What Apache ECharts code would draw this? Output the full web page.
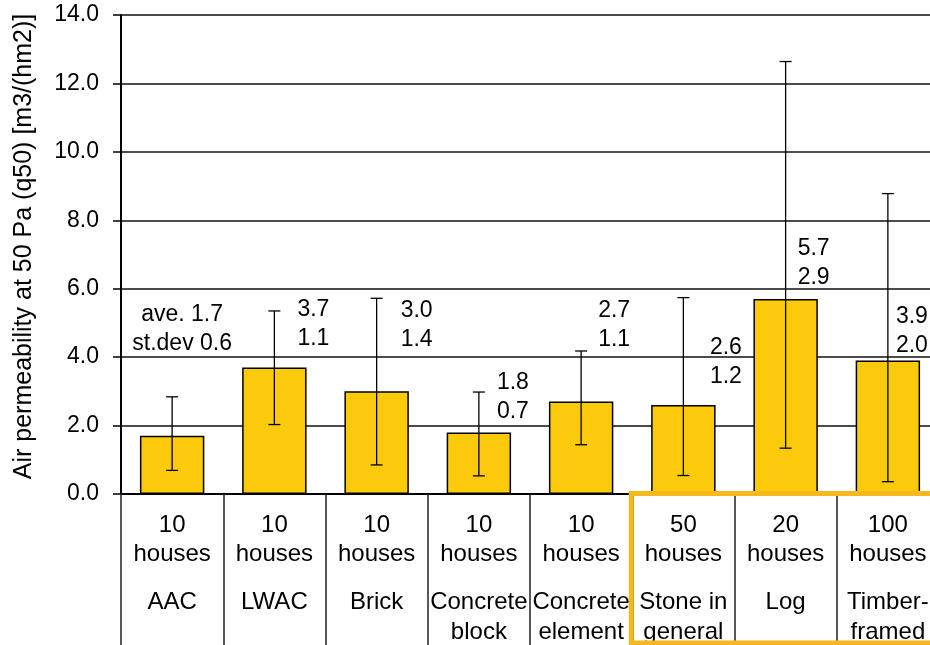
<!DOCTYPE html>
<html>
<head>
<meta charset="utf-8">
<script src="https://cdn.jsdelivr.net/npm/echarts@6/dist/echarts.min.js"></script>
<style>
  html, body { margin: 0; padding: 0; background: #fff; }
  #chart { width: 930px; height: 645px; }
</style>
</head>
<body>
<div id="chart"></div>
<script>
// Wall types and sample sizes
const categories = ['AAC', 'LWAC', 'Brick', 'Concrete\nblock', 'Concrete\nelement', 'Stone in\ngeneral', 'Log', 'Timber-\nframed'];
const houseCounts = [10, 10, 10, 10, 10, 50, 20, 100];

// Air permeability q50 statistics, m3/(h m2)
const averages = [1.7, 3.7, 3.0, 1.8, 2.7, 2.6, 5.7, 3.9];
const stdDevs  = [0.6, 1.1, 1.4, 0.7, 1.1, 1.2, 2.9, 2.0];
const rangeLow  = [0.69, 2.03, 0.85, 0.53, 1.44, 0.54, 1.34, 0.36];
const rangeHigh = [2.84, 5.35, 5.72, 2.98, 4.18, 5.74, 12.64, 8.78];

// First wall type of the framed group (stone, log, timber)
const framedFrom = 5;

// Annotation placement: [x shift in px from the category centre, y in axis units]
const notePlacement = [[10, 4.81], [23, 4.95], [24, 4.93], [18, 2.84], [17, 4.93], [26.5, 3.86], [12, 6.75], [8, 4.75]];

const FONT = "'Liberation Sans', Arial, Helvetica, sans-serif";
const chart = echarts.init(document.getElementById('chart'));

const option = {
  animation: false,
  textStyle: { fontFamily: FONT, color: '#000' },
  // the plot runs slightly past the right edge of the page
  grid: { left: 121, width: 818, top: 15, bottom: 151, containLabel: false, outerBoundsMode: 'none' },
  xAxis: {
    type: 'category',
    data: categories,
    boundaryGap: true,
    axisLine: { show: true, lineStyle: { color: '#000', width: 2 } },
    axisTick: { show: true, interval: 0, length: 152, lineStyle: { color: '#222', width: 1.5 } },
    axisLabel: {
      interval: 0,
      margin: 17,
      color: '#000',
      formatter: (value, idx) => `{n|${houseCounts[idx]}}\n{n|houses}\n{g| }\n{m|${value}}`,
      rich: {
        n: { fontSize: 24, lineHeight: 29, fontFamily: FONT, color: '#000' },
        g: { fontSize: 2, lineHeight: 18 },
        m: { fontSize: 24, lineHeight: 30, fontFamily: FONT, color: '#000' }
      }
    },
    splitLine: { show: false }
  },
  yAxis: {
    type: 'value',
    min: 0,
    max: 14,
    interval: 2,
    name: 'Air permeability at 50 Pa (q50) [m3/(hm2)]',
    nameLocation: 'middle',
    nameGap: 84,
    nameTextStyle: { fontSize: 25, color: '#000', fontFamily: FONT, padding: [0, 0, 0, 16] },
    axisLine: { show: true, lineStyle: { color: '#000', width: 2 } },
    axisTick: { show: true, length: 8, lineStyle: { color: '#000', width: 1.5 } },
    axisLabel: { margin: 22, fontSize: 23, color: '#000', formatter: v => v.toFixed(1) },
    splitLine: { show: true, lineStyle: { color: '#111', width: 1.5 } }
  },
  series: [
    {
      type: 'bar',
      data: averages,
      barWidth: '63%',
      itemStyle: { color: '#FBCB0B', borderColor: '#000', borderWidth: 1.5 },
      z: 2
    },
    {
      type: 'custom',
      name: 'range',
      clip: false,
      z: 3,
      data: categories.map((c, i) => [i, rangeLow[i], rangeHigh[i]]),
      encode: { x: 0, y: [1, 2] },
      renderItem: (params, api) => {
        const lo = api.coord([api.value(0), api.value(1)]);
        const hi = api.coord([api.value(0), api.value(2)]);
        const cap = 6;
        const style = { stroke: '#000', lineWidth: 1.3 };
        return {
          type: 'group',
          children: [
            { type: 'line', shape: { x1: lo[0], y1: lo[1], x2: hi[0], y2: hi[1] }, style },
            { type: 'line', shape: { x1: lo[0] - cap, y1: lo[1], x2: lo[0] + cap, y2: lo[1] }, style },
            { type: 'line', shape: { x1: hi[0] - cap, y1: hi[1], x2: hi[0] + cap, y2: hi[1] }, style }
          ]
        };
      }
    },
    {
      type: 'custom',
      name: 'notes',
      clip: false,
      z: 4,
      data: categories.map((c, i) => [i, averages[i], stdDevs[i]]),
      encode: { x: 0, y: 1 },
      renderItem: (params, api) => {
        const i = params.dataIndex;
        const avg = api.value(1).toFixed(1);
        const sd = api.value(2).toFixed(1);
        const p = api.coord([i, notePlacement[i][1]]);
        const first = i === 0;
        return {
          type: 'text',
          x: p[0] + notePlacement[i][0],
          y: p[1],
          style: {
            text: first ? `ave. ${avg}\nst.dev ${sd}` : `${avg}\n${sd}`,
            font: `23px ${FONT}`,
            fill: '#000',
            align: first ? 'center' : 'left',
            verticalAlign: 'middle',
            lineHeight: 29
          }
        };
      }
    }
  ]
};

chart.setOption(option);

// Frame round the labels of the last three wall types
(function drawFrame() {
  const c0 = chart.convertToPixel({ xAxisIndex: 0 }, framedFrom);
  const c1 = chart.convertToPixel({ xAxisIndex: 0 }, framedFrom + 1);
  const band = c1 - c0;
  const baseY = chart.convertToPixel({ yAxisIndex: 0 }, 0);
  const frameX = c0 - band / 2 - 1;
  const frameY = baseY - 0.5;
  chart.setOption({
    graphic: [{
      type: 'rect',
      z: 10,
      shape: { x: frameX, y: frameY, width: chart.getWidth() - frameX + 20, height: chart.getHeight() - 2 - frameY },
      style: { fill: 'none', stroke: '#F7B81D', lineWidth: 5 }
    }]
  });
})();
</script>
</body>
</html>
